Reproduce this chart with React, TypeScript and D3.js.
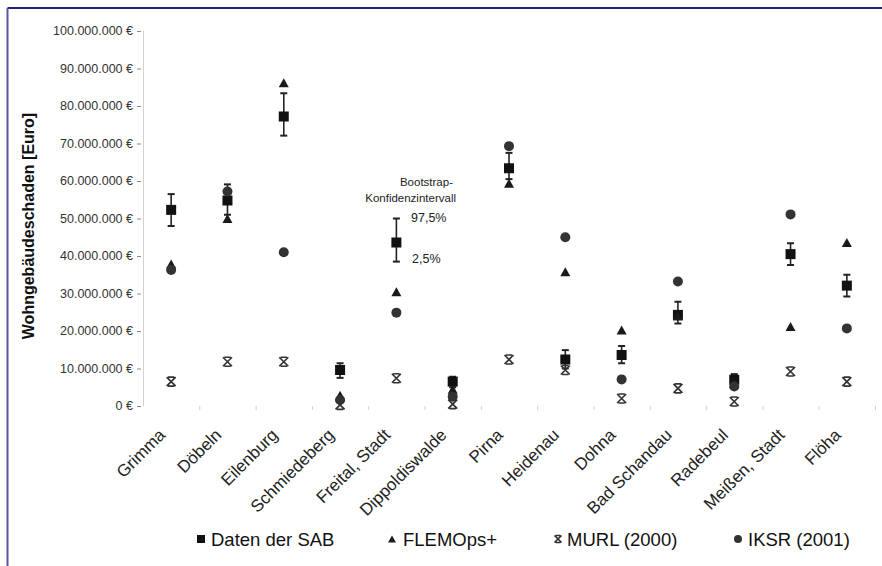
import React from "react";
import * as d3 from "d3";

const categories = ["Grimma", "Döbeln", "Eilenburg", "Schmiedeberg", "Freital, Stadt", "Dippoldiswalde", "Pirna", "Heidenau", "Dohna", "Bad Schandau", "Radebeul", "Meißen, Stadt", "Flöha"];
// values in million Euro
const sab = [52.3, 54.8, 77.2, 9.6, 43.6, 6.5, 63.4, 12.4, 13.6, 24.3, 7.0, 40.5, 32.1];
const sabHigh = [56.5, 59.1, 83.4, 11.4, 50.0, 7.8, 67.5, 14.9, 16.0, 27.8, 8.5, 43.4, 35.0];
const sabLow = [48.0, 51.0, 72.1, 7.5, 38.5, 5.0, 60.5, 10.0, 11.4, 22.0, 5.5, 37.6, 29.2];
const flemo = [37.9, 50.0, 86.2, 2.9, 30.5, 4.5, 59.4, 35.8, 20.3, 24.0, 6.0, 21.2, 43.6];
const murl = [6.5, 11.8, 11.8, 0.3, 7.4, 0.5, 12.4, 9.6, 2.0, 4.7, 1.2, 9.2, 6.5];
const iksr = [36.3, 57.2, 41.0, 1.6, 24.9, 2.5, 69.3, 45.0, 7.1, 33.2, 5.2, 51.1, 20.7];
const yTicks = [0, 10, 20, 30, 40, 50, 60, 70, 80, 90, 100];
const yTickLabels = ["0 €", "10.000.000 €", "20.000.000 €", "30.000.000 €", "40.000.000 €", "50.000.000 €", "60.000.000 €", "70.000.000 €", "80.000.000 €", "90.000.000 €", "100.000.000 €"];
const legendLabels = ["Daten der SAB", "FLEMOps+", "MURL (2000)", "IKSR (2001)"];
const yTitle = "Wohngebäudeschaden [Euro]";

const W = 882, H = 566;
const FONT = "'Liberation Sans', Arial, sans-serif";

function Square({ x, y, s = 10, fill = "#111" }: any) {
  return <rect x={x - s / 2} y={y - s / 2} width={s} height={s} fill={fill} />;
}
function Tri({ x, y, s = 10, fill = "#1a1a1a" }: any) {
  const h = s * 0.9;
  return <path d={`M${x},${y - h / 2}L${x + s / 2},${y + h / 2}L${x - s / 2},${y + h / 2}Z`} fill={fill} />;
}
function Circ({ x, y, r = 5, fill = "#333" }: any) {
  return <circle cx={x} cy={y} r={r} fill={fill} />;
}
function Star({ x, y, s = 9, stroke = "#333" }: any) {
  const h = s / 2;
  return (
    <path
      d={`M${x - h},${y - h}L${x + h},${y + h}M${x + h},${y - h}L${x - h},${y + h}M${x - h * 0.7},${y - h}L${x + h * 0.7},${y - h}M${x - h * 0.7},${y + h}L${x + h * 0.7},${y + h}`}
      stroke={stroke}
      strokeWidth={1.7}
      fill="none"
    />
  );
}

export default function App() {
  const x = d3.scaleBand<string>().domain(categories).range([143, 875]).padding(0);
  const y = d3.scaleLinear().domain([0, 100]).range([406, 31]);
  const cx = (c: string) => (x(c) as number) + x.bandwidth() / 2;

  return (
    <svg width={W} height={H} style={{ position: "absolute", left: 0, top: 0, background: "#fff" }} fontFamily={FONT}>
      {/* frame */}
      <line x1={7.5} y1={8} x2={W} y2={8} stroke="#1f1f78" strokeWidth={2} />
      <line x1={7.5} y1={8} x2={7.5} y2={H} stroke="#5a54a4" strokeWidth={2} />

      {/* y axis */}
      <line x1={143.5} y1={y(100)} x2={143.5} y2={y(0)} stroke="#d0d0d0" strokeWidth={1} />
      {yTicks.map((t, i) => (
        <g key={t}>
          <line x1={137} x2={141} y1={y(t) + 0.5} y2={y(t) + 0.5} stroke="#888" strokeWidth={1} />
          <text x={133} y={y(t)} dy="0.35em" textAnchor="end" fontSize={12.5} fill="#333">{yTickLabels[i]}</text>
        </g>
      ))}
      {/* x ticks at band boundaries */}
      {categories.map((c) => (
        <line key={c} x1={(x(c) as number) + x.bandwidth() + 0.5} x2={(x(c) as number) + x.bandwidth() + 0.5} y1={406} y2={410} stroke="#d0d0d0" />
      ))}
      {/* x labels */}
      {categories.map((c) => (
        <text key={c} transform={`translate(${cx(c) - 5},${436}) rotate(-45)`} textAnchor="end" fontSize={17} fill="#222">{c}</text>
      ))}

      {/* y title */}
      <text transform={`translate(34,226) rotate(-90)`} textAnchor="middle" fontSize={16} fontWeight="bold" fill="#111">{yTitle}</text>

      {/* error bars */}
      {categories.map((c, i) => (
        <g key={c} stroke="#222">
          <line x1={cx(c)} x2={cx(c)} y1={y(sabHigh[i])} y2={y(sabLow[i])} strokeWidth={1.6} />
          <line x1={cx(c) - 3.5} x2={cx(c) + 3.5} y1={y(sabHigh[i])} y2={y(sabHigh[i])} strokeWidth={2} />
          <line x1={cx(c) - 3.5} x2={cx(c) + 3.5} y1={y(sabLow[i])} y2={y(sabLow[i])} strokeWidth={2} />
        </g>
      ))}
      {categories.map((c, i) => <Square key={"s" + c} x={cx(c)} y={y(sab[i])} />)}
      {categories.map((c, i) => <Tri key={"t" + c} x={cx(c)} y={y(flemo[i])} />)}
      {categories.map((c, i) => <Star key={"m" + c} x={cx(c)} y={y(murl[i])} />)}
      {categories.map((c, i) => <Circ key={"c" + c} x={cx(c)} y={y(iksr[i])} />)}

      {/* annotation */}
      <text x={453} y={186} textAnchor="end" fontSize={11.5} fill="#222">Bootstrap-</text>
      <text x={456} y={202} textAnchor="end" fontSize={11.5} fill="#222">Konfidenzintervall</text>
      <text x={411} y={222} fontSize={12.5} fill="#222">97,5%</text>
      <text x={412} y={263} fontSize={12.5} fill="#222">2,5%</text>

      {/* legend */}
      <g fontSize={18.5} fill="#111">
        <Square x={201} y={539} s={8} />
        <text x={211} y={546}>{legendLabels[0]}</text>
        <Tri x={392} y={539} s={8} />
        <text x={403} y={546}>{legendLabels[1]}</text>
        <Star x={558} y={539} s={7} />
        <text x={567} y={546}>{legendLabels[2]}</text>
        <Circ x={738} y={539} r={4} />
        <text x={748} y={546}>{legendLabels[3]}</text>
      </g>
    </svg>
  );
}
